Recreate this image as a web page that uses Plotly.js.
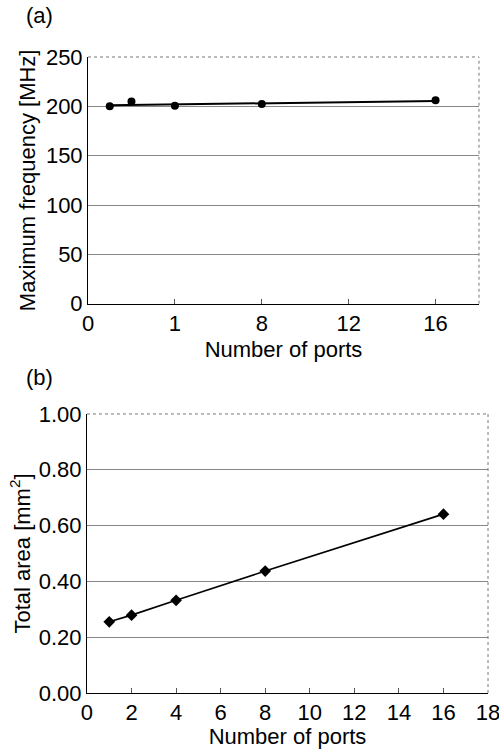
<!DOCTYPE html>
<html>
<head>
<meta charset="utf-8">
<script src="https://cdn.plot.ly/plotly-3.0.1.min.js"></script>
<style>html,body{margin:0;padding:0;background:#fff;}#chart{width:499px;height:749px;}</style>
</head>
<body>
<div id="chart"></div>
<script>
// Panel (a): maximum frequency
const portsA = [1, 2, 4, 8, 16];
const freqMHz = [200, 204.8, 200.5, 202.4, 206.3];
const trendX = [1, 16];
const trendY = [201, 205.5];
const tickValsA = [0, 4, 8, 12, 16];
const tickTextA = ['0', '1', '8', '12', '16'];
const tickValsFreq = [0, 50, 100, 150, 200, 250];

// Panel (b): total area
const portsB = [1, 2, 4, 8, 16];
const areaMM2 = [0.255, 0.279, 0.332, 0.437, 0.641];
const tickValsB = [0, 2, 4, 6, 8, 10, 12, 14, 16, 18];
const tickValsArea = [0, 0.2, 0.4, 0.6, 0.8, 1.0];
const tickTextArea = ['0.00', '0.20', '0.40', '0.60', '0.80', '1.00'];

const FONT = 'Liberation Sans, Arial, sans-serif';
const f22 = {family: FONT, size: 22, color: '#000'};

const traces = [
  {x: trendX, y: trendY, mode: 'lines', line: {color: '#000', width: 2}, xaxis: 'x', yaxis: 'y', hoverinfo: 'skip'},
  {x: portsA, y: freqMHz, mode: 'markers', marker: {color: '#000', size: 8, symbol: 'circle'}, xaxis: 'x', yaxis: 'y'},
  {x: portsB, y: areaMM2, mode: 'lines+markers', line: {color: '#000', width: 1.6},
   marker: {color: '#000', size: 9, symbol: 'diamond'}, xaxis: 'x2', yaxis: 'y2'}
];

const xCommon = {
  showline: true, linecolor: '#000', linewidth: 1, ticks: 'inside', ticklen: 5, tickcolor: '#555', tickwidth: 1,
  showgrid: false, zeroline: false, tickfont: f22, ticklabeloverflow: 'allow'
};
const yCommon = {
  showline: true, linecolor: '#000', linewidth: 1, ticks: '', showgrid: true, gridcolor: '#888', gridwidth: 1,
  zeroline: false, tickfont: f22
};

const borders = [];
[['x', 'y'], ['x2', 'y2']].forEach(([xa, ya]) => {
  borders.push({type: 'line', xref: xa + ' domain', yref: ya + ' domain', x0: 0, x1: 1, y0: 1, y1: 1,
    line: {color: '#777', width: 1, dash: 'dot'}});
  borders.push({type: 'line', xref: xa + ' domain', yref: ya + ' domain', x0: 1, x1: 1, y0: 0, y1: 1,
    line: {color: '#777', width: 1, dash: 'dot'}});
});

const layout = {
  width: 499, height: 749,
  margin: {l: 0, r: 0, t: 0, b: 0},
  paper_bgcolor: '#fff', plot_bgcolor: '#fff',
  showlegend: false,
  font: f22,
  xaxis: Object.assign({}, xCommon, {domain: [0.1764, 0.9599], range: [0, 18], tickvals: tickValsA, ticktext: tickTextA,
    anchor: 'y', title: {text: 'Number of ports', font: f22, standoff: 6}}),
  yaxis: Object.assign({}, yCommon, {domain: [0.5945, 0.9239], range: [0, 250], tickvals: tickValsFreq,
    anchor: 'x', title: {text: 'Maximum frequency [MHz]', font: f22, standoff: 4}}),
  xaxis2: Object.assign({}, xCommon, {domain: [0.1743, 0.978], range: [0, 18], tickvals: tickValsB,
    anchor: 'y2', title: {text: 'Number of ports', font: f22, standoff: 4}}),
  yaxis2: Object.assign({}, yCommon, {domain: [0.0748, 0.4473], range: [0, 1], tickvals: tickValsArea, ticktext: tickTextArea,
    anchor: 'x2', title: {text: 'Total area [mm<sup>2</sup>]', font: f22, standoff: 2}}),
  shapes: borders,
  annotations: [
    {text: '(a)', xref: 'paper', yref: 'paper', x: 24 / 499, y: 1 - 15 / 749, xanchor: 'left', yanchor: 'middle', showarrow: false, font: f22},
    {text: '(b)', xref: 'paper', yref: 'paper', x: 24 / 499, y: 1 - 378 / 749, xanchor: 'left', yanchor: 'middle', showarrow: false, font: f22}
  ]
};

Plotly.newPlot('chart', traces, layout, {displayModeBar: false, staticPlot: true});
</script>
</body>
</html>
